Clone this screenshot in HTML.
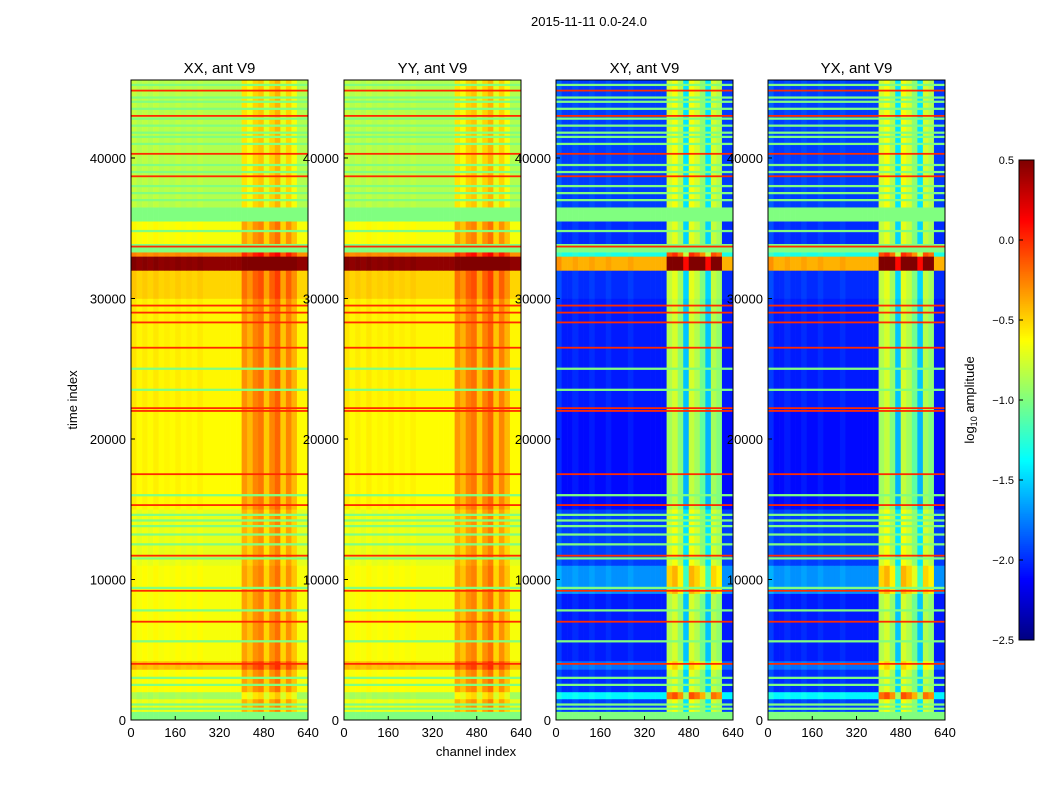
<!DOCTYPE html>
<html><head><meta charset="utf-8">
<style>
body{margin:0;background:#fff;}
svg{display:block;font-family:"Liberation Sans",sans-serif;}
</style></head>
<body>
<svg id="chart" width="1050" height="800" viewBox="0 0 1050 800" xmlns="http://www.w3.org/2000/svg">
<text x="589" y="26" font-size="13" text-anchor="middle">2015-11-11 0.0-24.0</text>
<text transform="translate(77,400) rotate(-90)" font-size="13" text-anchor="middle">time index</text>
<text x="476" y="756" font-size="13" text-anchor="middle">channel index</text>
<text transform="translate(974,400) rotate(-90)" font-size="13" text-anchor="middle">log<tspan font-size="9" dy="3">10</tspan><tspan dy="-3"> amplitude</tspan></text>
<g id="panels"></g>
<g id="cbar"></g>
</svg>
<script>
// ---- data ----
const panelTitles = ["XX, ant V9","YY, ant V9","XY, ant V9","YX, ant V9"];
const bandStart = [0,600,1500,2000,3600,4200,9000,11000,15000,22000,30000,32000,33000,33300,33900,35500,36500];
const bandEnd   = [600,1500,2000,3600,4200,9000,11000,15000,22000,30000,32000,33000,33300,33900,35500,36500,45550];
const xxBase = [-1.0,-0.7,-0.9,-0.65,-0.45,-0.65,-0.65,-0.7,-0.62,-0.6,-0.5,0.45,-0.3,-1.0,-0.65,-1.0,-0.85];
const xyBase = [-1.0,-1.95,-1.4,-2.0,-1.8,-2.05,-1.7,-1.95,-2.1,-2.05,-2.0,-0.4,-1.3,-1.0,-2.0,-1.0,-1.95];
const xxCol = [0.05,0,0.03,0,0.04,0,0.02,0,0.03,0,0.02,0,0.03,0,0,0,0,0,0,0,0.3,0.2,0.35,0.4,0.15,0.35,0.45,0.15,0.35,0.2,0,0];
const xyCol = [0.1,0,0,0.05,0,0,0.05,0,0,0.05,0,0,0,0.05,0,0,0,0,0,0,1.2,1.3,1.1,0.5,1.3,1.2,1.0,0.5,1.2,1.1,0,0];
const greenLines = [800,1100,2500,3000,5600,7800,9400,11500,12500,13200,13800,14200,14600,16000,23500,25000,34800,37000,37500,38000,39000,39500,41000,41500,41800,42300,42800,43500,44000,44300,45200];
const redLines = [4000,7000,9200,11700,15300,17500,22000,22200,26500,28300,29000,29500,33700,38700,40300,43000,44800];
const xTicks = [0,160,320,480,640];
const yTicks = [0,10000,20000,30000,40000];
const cbTicks = [0.5,0.0,-0.5,-1.0,-1.5,-2.0,-2.5];

// ---- scales ----
const panelX = [131,344,556,768], pw = 177, plotTop = 80, plotBot = 720, tMax = 45550, chMax = 640;
const vMin = -2.5, vMax = 0.5;
function yS(t){return plotBot - (t/tMax)*(plotBot-plotTop);}
function xS(p,c){return panelX[p] + c/chMax*pw;}
function jet(v){
  let x = (v - vMin)/(vMax - vMin); x = Math.max(0,Math.min(1,x));
  const f = (a)=>Math.round(255*Math.max(0,Math.min(1,1.5-Math.abs(4*x-a))));
  return `rgb(${f(3)},${f(2)},${f(1)})`;
}
const NS = "http://www.w3.org/2000/svg";
function mk(tag, attrs, parent){const e=document.createElementNS(NS,tag);for(const k in attrs)e.setAttribute(k,attrs[k]);parent.appendChild(e);return e;}

const G = document.getElementById('panels');
const nBins = xxCol.length, binW = chMax/nBins;
for(let p=0;p<4;p++){
  const g = mk('g',{},G);
  
  
  const cross = p>=2;
  const base = cross?xyBase:xxBase, col = cross?xyCol:xxCol;
  for(let b=0;b<bandStart.length;b++){
    const y1=yS(bandEnd[b]), y2=yS(bandStart[b]);
    for(let c=0;c<nBins;c++){
      let v = base[b];
      const flat = (base[b]===-1.0);
      if(!flat) v += col[c];
      const r = mk('rect',{x:xS(p,c*binW),y:y1,width:pw/nBins+0.3,height:y2-y1+0.3,fill:jet(v)},g);
      
      
    }
  }
  greenLines.forEach(t=>{
    const r=mk('rect',{x:panelX[p],y:yS(t+80),width:pw,height:Math.max(1.5,yS(t-80)-yS(t+80)),fill:jet(-1.0)},g);
    
    
  });
  redLines.forEach(t=>{
    const r=mk('rect',{x:panelX[p],y:yS(t+60),width:pw,height:1.8,fill:jet(0.0)},g);
    
    
  });
  const fr=mk('rect',{x:panelX[p],y:plotTop,width:pw,height:plotBot-plotTop,fill:'none',stroke:'#000','stroke-width':1},g);
  
  
  const tt=mk('text',{x:panelX[p]+pw/2,y:73,'font-size':15,'text-anchor':'middle'},g);
  tt.textContent=panelTitles[p];
  
  
  xTicks.forEach(v=>{
    const x=xS(p,v);
    mk('line',{x1:x,y1:plotBot,x2:x,y2:plotBot-4,stroke:'#000'},g);
    const t=mk('text',{x:x,y:737,'font-size':13,'text-anchor':'middle'},g);
    t.textContent=v;
    
    
  });
  yTicks.forEach(v=>{
    const y=yS(v);
    mk('line',{x1:panelX[p],y1:y,x2:panelX[p]+4,y2:y,stroke:'#000'},g);
    const t=mk('text',{x:panelX[p]-5,y:y+5,'font-size':13,'text-anchor':'end'},g);
    t.textContent=v;
    
    
  });
}
// colorbar
const C=document.getElementById('cbar');


const cbX=1019, cbW=15, cbTop=160, cbBot=640;
for(let i=0;i<240;i++){
  const v=vMin+(i+0.5)/240*(vMax-vMin);
  mk('rect',{x:cbX,y:cbBot-(i+1)*2,width:cbW,height:2.3,fill:jet(v)},C);
}
mk('rect',{x:cbX,y:cbTop,width:cbW,height:cbBot-cbTop,fill:'none',stroke:'#000'},C);
cbTicks.forEach(v=>{
  const y=cbBot-(v-vMin)/(vMax-vMin)*(cbBot-cbTop);
  mk('line',{x1:cbX,y1:y,x2:cbX+4,y2:y,stroke:'#000'},C);
  const t=mk('text',{x:1014,y:y+4,'font-size':11,'text-anchor':'end'},C);
  t.textContent=(v<0?'\u2212':'')+Math.abs(v).toFixed(1);
  
  
});
</script>
</body></html>
